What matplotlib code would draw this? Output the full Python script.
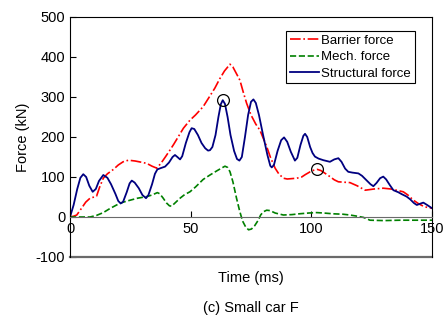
import matplotlib
matplotlib.use("Agg")
import matplotlib.pyplot as plt

plt.rcParams['font.family'] = ['Liberation Sans', 'DejaVu Sans']
plt.rcParams['axes.unicode_minus'] = False

# Structural force (kN) vs time (ms)
t_struct = [0, 1.5, 3, 4.3, 5.5, 6.7, 8, 9.4, 10.7, 12, 13.8, 15.5, 17, 18.8, 20, 21,
            22, 23.5, 24.7, 25.6, 26.8, 28.5, 30, 31.5, 32.5, 34, 35.2, 36.2, 37.5,
            39.4, 41, 42.5, 43.5, 44.5, 45.6, 46.5, 48, 49.5, 50.4, 51.5, 53, 54.5,
            56, 57.2, 58, 59, 60.3, 61.5, 62.5, 63.3, 64.2, 65.3, 66.5, 68, 69.2,
            70.2, 71.2, 72.5, 73.8, 75, 76, 77, 78.3, 80, 81.8, 83, 83.6, 84.5, 86,
            87.5, 88.7, 90, 91.5, 93.2, 94.2, 95.5, 96.7, 97.4, 98.3, 99.5, 100.5,
            101.5, 103, 105, 107.7, 109.5, 111.2, 112.5, 114, 115.3, 117, 119.5,
            121, 122.5, 124.5, 125.7, 127, 128.5, 129.8, 131, 132.5, 134, 136,
            137.5, 139.5, 141, 142.5, 143.7, 145, 146.4, 148, 150]
f_struct = [0, 30, 70, 98, 107, 100, 78, 63, 70, 90, 105, 98, 82, 58, 40, 34,
            38, 62, 84, 91, 86, 72, 55, 47, 55, 82, 108, 119, 122,
            126, 136, 150, 155, 150, 144, 152, 185, 212, 222, 220, 205, 185,
            172, 166, 167, 175, 205, 250, 282, 292, 283, 250, 205, 165, 145,
            141, 150, 200, 255, 288, 294, 285, 255, 205, 155, 128, 124, 130, 165,
            192, 199, 188, 163, 141, 148, 180, 203, 208, 200, 175, 160,
            151, 146, 142, 138, 144, 147, 138, 121, 113, 111, 109,
            103, 94, 82, 77, 85, 97, 101, 94, 80, 67, 62,
            57, 51, 44, 35, 30, 33, 36, 30, 22]

# Barrier force
t_barrier = [0, 1.5, 2.8, 4.8, 6.5, 8.3, 10, 11, 12.3, 13.8, 15.5, 18, 20, 22, 24.2,
             27, 29.5, 31.8, 34, 36, 38, 39.5, 41.4, 43, 44.9, 47, 49.7, 52, 55.2,
             57.5, 60, 62, 64, 66.3, 67.5, 69, 70.4, 71.8, 73.2, 75, 77, 78.7, 80,
             81.5, 83, 85, 86.5, 88.4, 90, 92, 94, 96, 97.5, 99.5, 101, 102.5, 104,
             105.5, 107.7, 109.5, 111.2, 113.5, 116, 119, 122.3, 126, 129.8, 133,
             136, 138.1, 140, 142.3, 144.5, 146.4, 148, 150]
f_barrier = [0, 2, 5, 22, 37, 47, 50, 52, 75, 97, 108, 119, 130, 138, 142,
             140, 137, 134, 127, 122, 137, 150, 167, 182, 201, 222, 242, 255, 276,
             298, 322, 345, 365, 382, 375, 358, 342, 312, 284, 255, 232, 217, 198,
             176, 150, 122, 108, 97, 95, 96, 97, 100, 106, 113, 117, 119, 116,
             110, 101, 93, 88, 87, 86, 78, 67, 70, 72, 70,
             66, 63, 55, 42, 33, 27, 24, 22]

# Mechanical force
t_mech = [0, 4, 8.3, 11, 13.8, 16.5, 19.3, 22, 24.9, 28, 31.8, 34, 36.2, 37.2, 38.5,
          40, 41.2, 42.1, 43.5, 45.6, 47.5, 49.7, 52, 55.2, 58, 61, 64.2, 65.3, 66.3,
          67.5, 69, 70.3, 71.5, 72.8, 74, 75.2, 76.5, 78, 79, 80.1, 81.5, 82.9, 85,
          88.4, 92, 95, 99, 102.2, 105, 109, 113, 116, 119, 121.6, 124.3, 130,
          136.8, 143, 150]
f_mech = [0, 0, 0, 4, 11, 21, 30, 37, 42, 47, 51, 55, 61, 58, 48,
          35, 28, 27, 35, 47, 56, 63, 75, 94, 105, 116, 127, 124, 113,
          88, 47, 15, -10, -25, -32, -30, -22, -8, 5, 13, 17, 16, 10,
          5, 6, 8, 10, 11, 10, 8, 7, 5, 2, -1, -8, -9,
          -8, -8, -8]

# circled points
t_mark = [63.3, 102.5]
f_mark = [292, 119]

fig = plt.figure(figsize=(4.48, 3.25), dpi=100)
ax = fig.add_axes([70 / 448, 68 / 325, 362 / 448, 240 / 325])

ax.plot(t_barrier, f_barrier, color='red', linestyle='-.', linewidth=1.2, label='Barrier force')
ax.plot(t_mech, f_mech, color='green', linestyle='--', linewidth=1.2, label='Mech. force')
ax.plot(t_struct, f_struct, color='navy', linestyle='-', linewidth=1.3, label='Structural force')
ax.plot(t_mark, f_mark, 'o', mfc='none', mec='black', markersize=8.5, markeredgewidth=0.9)

ax.set_xlim(0, 150)
ax.set_ylim(-100, 500)
ax.set_xticks([0, 50, 100, 150])
ax.set_yticks([-100, 0, 100, 200, 300, 400, 500])

# x axis drawn through zero, box closed at -100
ax.spines['bottom'].set_position(('data', 0))
ax.spines['bottom'].set_color('#6a6a6a')
ax.axhline(-100, color='#6a6a6a', linewidth=1.6, clip_on=False)
for s in ['top', 'left', 'right']:
    ax.spines[s].set_color('black')
ax.tick_params(direction='in', length=4, labelsize=10.5, colors='black')

ax.set_xlabel('Time (ms)', fontsize=10.5)
ax.xaxis.set_label_coords(0.5, -0.06)
ax.set_ylabel('Force (kN)', fontsize=10.5)

ax.text(0.5, -0.185, '(c) Small car F', transform=ax.transAxes, ha='center', va='top', fontsize=10.5)

leg = ax.legend(loc='upper right', bbox_to_anchor=(0.953, 0.942), borderaxespad=0,
                fontsize=9.5, fancybox=False, framealpha=1, edgecolor='black',
                labelspacing=0.3, handlelength=2.2, handletextpad=0.2, borderpad=0.3)
leg.get_frame().set_linewidth(0.8)

fig.savefig('out.png', dpi=100)
